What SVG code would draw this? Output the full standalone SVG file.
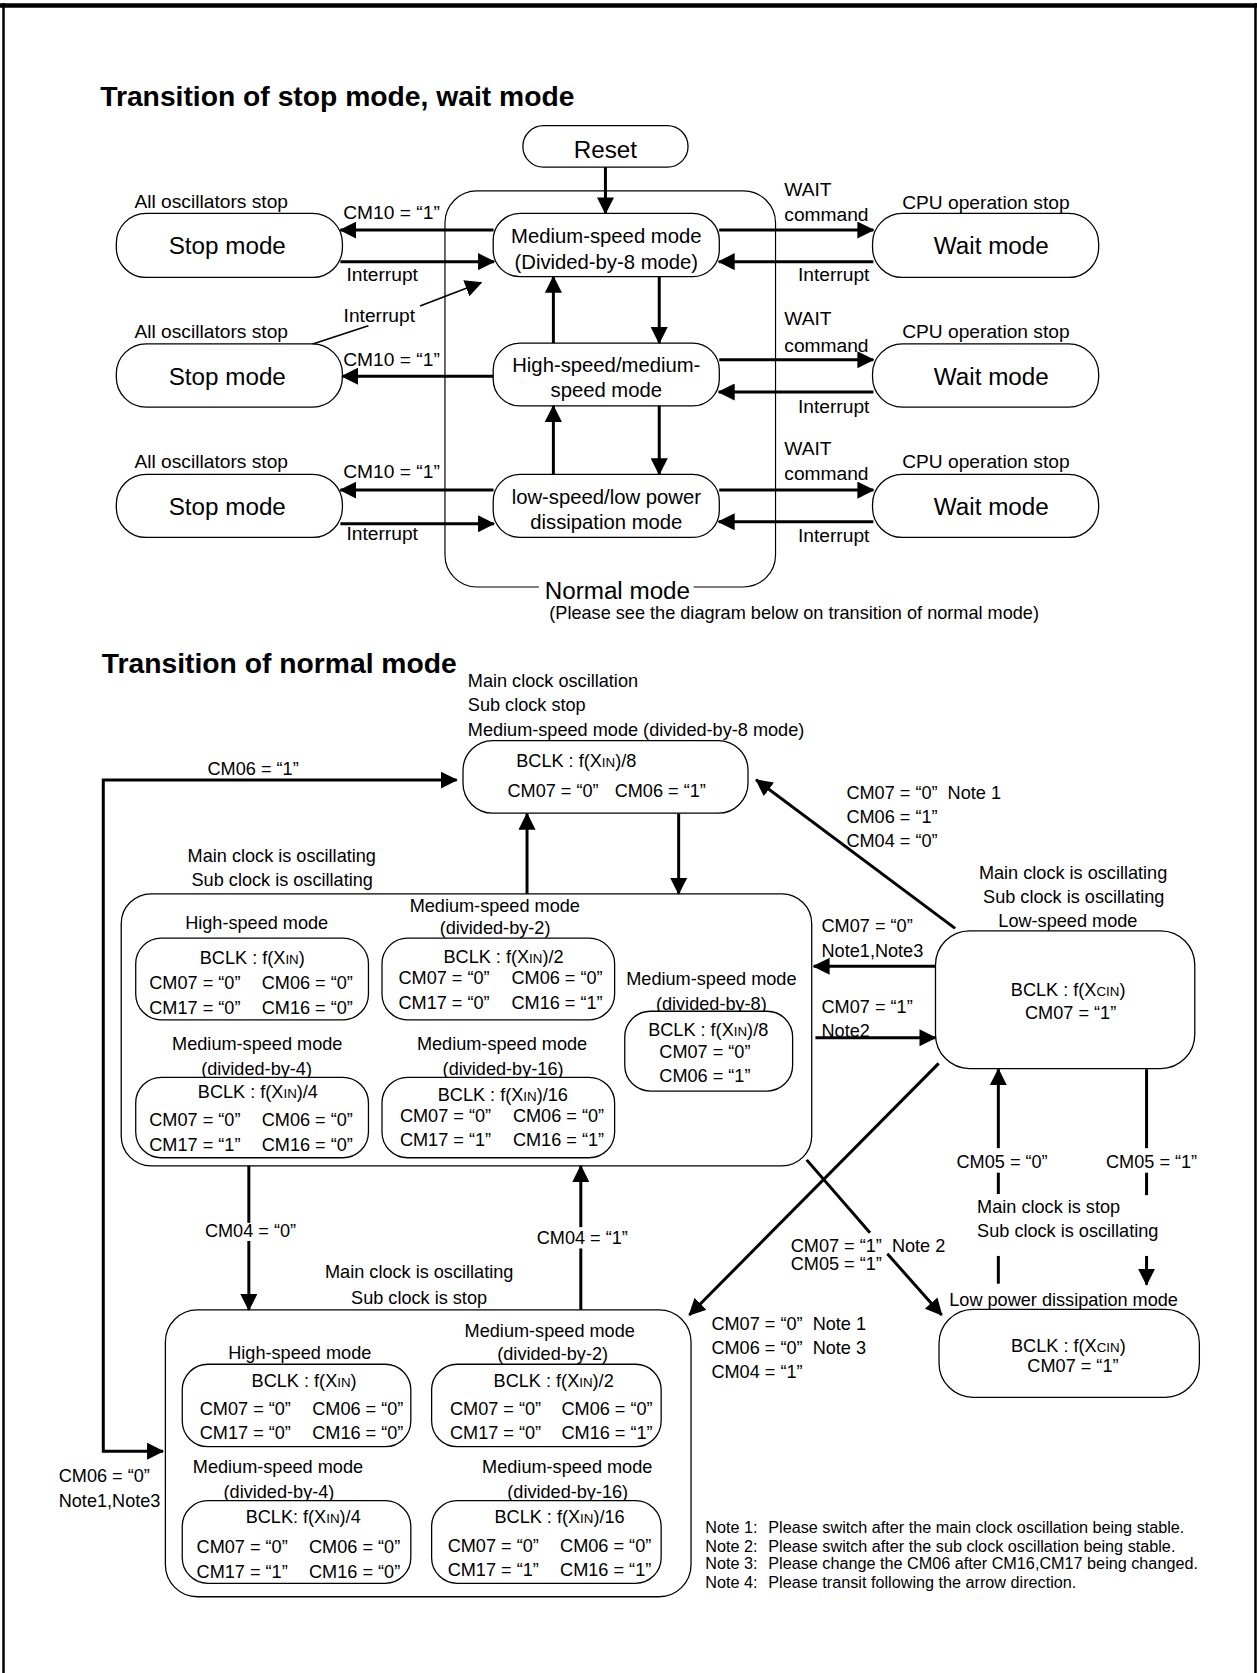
<svg xmlns="http://www.w3.org/2000/svg" width="1257" height="1673" viewBox="0 0 1257 1673">
<style>
.bx{fill:#fff;stroke:#000;stroke-width:1.2}
.nb{fill:none;stroke:#000;stroke-width:1.1}
.ar{fill:none;stroke:#000;stroke-width:2.8}
.th{fill:none;stroke:#000;stroke-width:1.5}
text{font-family:"Liberation Sans",Arial,Helvetica,sans-serif;fill:#000}
.ttl{font-size:26.5px;font-weight:bold}
.l18{font-size:18px}
.l22{font-size:22.7px}
.l19{font-size:19px}
.l17{font-size:17px}
.n15{font-size:15.2px}
.m{text-anchor:middle}
.sc{font-size:12.5px}
</style>
<defs>
<marker id="ah" markerUnits="userSpaceOnUse" viewBox="0 0 16 16" markerWidth="16" markerHeight="16" refX="15" refY="8" orient="auto-start-reverse">
<path d="M0,0 L16,8 L0,16 z" fill="#000"/>
</marker>
</defs>
<rect width="1257" height="1673" fill="#fff"/>
<g id="frame" fill="none" stroke="#000">
<line x1="0" y1="5.5" x2="1257" y2="5.5" stroke-width="4.5"/>
<line x1="3.5" y1="3" x2="3.5" y2="1673" stroke-width="2.5"/>
<line x1="1255.5" y1="3" x2="1255.5" y2="1673" stroke-width="2.5"/>
</g>
<g transform="scale(1.06706)">
<text class="ttl" x="93.9" y="99.3">Transition of stop mode, wait mode</text>
<text class="ttl" x="95.4" y="630.4">Transition of normal mode</text>

<!-- ===== Upper diagram nodes ===== -->
<g id="reset">
<rect class="bx" x="490" y="117.8" width="154.8" height="38.9" rx="19.4"/>
<text class="l22 m" x="567.4" y="148">Reset</text>
</g>
<g id="normal-mode">
<path class="nb" d="M505,550.1 H447 A30,30 0 0 1 417,520.1 V208.9 A30,30 0 0 1 447,178.9 H696.8 A30,30 0 0 1 726.8,208.9 V520.1 A30,30 0 0 1 696.8,550.1 H650"/>
<text class="l22 m" x="578.6" y="561.2">Normal mode</text>
<text class="l17" x="514.8" y="579.7">(Please see the diagram below on transition of normal mode)</text>
</g>
<g id="medium-speed">
<rect class="bx" x="462.2" y="200" width="211.9" height="59.3" rx="25"/>
<text class="l19 m" x="568.2" y="227.8">Medium-speed mode</text>
<text class="l19 m" x="568.2" y="251.9">(Divided-by-8 mode)</text>
</g>
<g id="high-medium-speed">
<rect class="bx" x="462.2" y="321.5" width="211.9" height="58.9" rx="25"/>
<text class="l19 m" x="568.2" y="348.2">High-speed/medium-</text>
<text class="l19 m" x="568.2" y="372.3">speed mode</text>
</g>
<g id="low-speed-low-power">
<rect class="bx" x="462.2" y="444.5" width="211.9" height="59.2" rx="25"/>
<text class="l19 m" x="568.2" y="472.3">low-speed/low power</text>
<text class="l19 m" x="568.2" y="495.6">dissipation mode</text>
</g>
<g id="stop1">
<text class="l18" x="126" y="194.5">All oscillators stop</text>
<rect class="bx" x="109" y="200" width="211.9" height="60" rx="28"/>
<text class="l22 m" x="213" y="238.5">Stop mode</text>
</g>
<g id="stop2">
<text class="l18" x="126" y="316.7">All oscillators stop</text>
<rect class="bx" x="109" y="322.3" width="211.9" height="59.2" rx="28"/>
<text class="l22 m" x="213" y="360.5">Stop mode</text>
</g>
<g id="stop3">
<text class="l18" x="126" y="439">All oscillators stop</text>
<rect class="bx" x="109" y="444.5" width="211.9" height="59.2" rx="28"/>
<text class="l22 m" x="213" y="482.5">Stop mode</text>
</g>
<g id="wait1">
<text class="l18" x="845.5" y="196.3">CPU operation stop</text>
<rect class="bx" x="817.7" y="200" width="211.9" height="60" rx="28"/>
<text class="l22 m" x="929" y="238.5">Wait mode</text>
</g>
<g id="wait2">
<text class="l18" x="845.5" y="316.7">CPU operation stop</text>
<rect class="bx" x="817.7" y="322.3" width="211.9" height="59.2" rx="28"/>
<text class="l22 m" x="929" y="360.5">Wait mode</text>
</g>
<g id="wait3">
<text class="l18" x="845.5" y="439">CPU operation stop</text>
<rect class="bx" x="817.7" y="444.5" width="211.9" height="59.2" rx="28"/>
<text class="l22 m" x="929" y="482.5">Wait mode</text>
</g>

<!-- ===== Lower diagram nodes ===== -->
<g id="div8-top">
<text class="l17" x="438.4" y="643.4">Main clock oscillation</text>
<text class="l17" x="438.4" y="666">Sub clock stop</text>
<text class="l17" x="438.4" y="690.1">Medium-speed mode (divided-by-8 mode)</text>
<rect class="bx" x="433.9" y="694" width="267.1" height="68.1" rx="28" fill="none"/>
<text class="l17" x="483.8" y="719.2">BCLK : f(X<tspan class="sc">IN</tspan>)/8</text>
<text class="l17" x="475.6" y="746.6">CM07 = “0”</text>
<text class="l17" x="576" y="746.6">CM06 = “1”</text>
</g>

<g id="main-sub-osc">
<text class="l17" x="175.8" y="807.9">Main clock is oscillating</text>
<text class="l17" x="179.5" y="830.5">Sub clock is oscillating</text>
<rect class="bx" x="113.6" y="837.6" width="647.1" height="255" rx="28"/>
<g id="mso-high">
<text class="l17" x="173.5" y="870.9">High-speed mode</text>
<rect class="bx" x="127.2" y="879.2" width="218.1" height="76.5" rx="24"/>
<text class="l17" x="187.2" y="903.1">BCLK : f(X<tspan class="sc">IN</tspan>)</text>
<text class="l17" x="139.9" y="927.3">CM07 = “0”</text><text class="l17" x="245.3" y="927.3">CM06 = “0”</text>
<text class="l17" x="139.9" y="949.9">CM17 = “0”</text><text class="l17" x="245.3" y="949.9">CM16 = “0”</text>
</g>
<g id="mso-div2">
<text class="l17" x="383.9" y="854.7">Medium-speed mode</text>
<text class="l17" x="412" y="875.7">(divided-by-2)</text>
<rect class="bx" x="358" y="879.2" width="218" height="76.5" rx="24"/>
<text class="l17" x="415.6" y="902.2">BCLK : f(X<tspan class="sc">IN</tspan>)/2</text>
<text class="l17" x="373.4" y="922.5">CM07 = “0”</text><text class="l17" x="479.3" y="922.5">CM06 = “0”</text>
<text class="l17" x="373.4" y="945.7">CM17 = “0”</text><text class="l17" x="479.3" y="945.7">CM16 = “1”</text>
</g>
<g id="mso-div8">
<text class="l17" x="586.9" y="923.1">Medium-speed mode</text>
<text class="l17" x="614.7" y="946.1">(divided-by-8)</text>
<rect class="bx" x="585.5" y="947.7" width="157.3" height="74.8" rx="24" fill="none"/>
<text class="l17" x="607.4" y="970.9">BCLK : f(X<tspan class="sc">IN</tspan>)/8</text>
<text class="l17" x="617.9" y="991.2">CM07 = “0”</text>
<text class="l17" x="617.9" y="1013.8">CM06 = “1”</text>
</g>
<g id="mso-div4">
<text class="l17" x="161.3" y="983.8">Medium-speed mode</text>
<text class="l17" x="188.5" y="1007">(divided-by-4)</text>
<rect class="bx" x="127.2" y="1009.6" width="218.1" height="75.4" rx="24" fill="none"/>
<text class="l17" x="185.4" y="1029">BCLK : f(X<tspan class="sc">IN</tspan>)/4</text>
<text class="l17" x="139.9" y="1054.8">CM07 = “0”</text><text class="l17" x="245.3" y="1054.8">CM06 = “0”</text>
<text class="l17" x="139.9" y="1078.4">CM17 = “1”</text><text class="l17" x="245.3" y="1078.4">CM16 = “0”</text>
</g>
<g id="mso-div16">
<text class="l17" x="390.7" y="983.8">Medium-speed mode</text>
<text class="l17" x="414.8" y="1007">(divided-by-16)</text>
<rect class="bx" x="358" y="1009.6" width="218" height="75.4" rx="24" fill="none"/>
<text class="l17" x="410.2" y="1032.2">BCLK : f(X<tspan class="sc">IN</tspan>)/16</text>
<text class="l17" x="374.8" y="1051.6">CM07 = “0”</text><text class="l17" x="480.7" y="1051.6">CM06 = “0”</text>
<text class="l17" x="374.8" y="1074.2">CM17 = “1”</text><text class="l17" x="480.7" y="1074.2">CM16 = “1”</text>
</g>
</g>

<g id="low-speed">
<text class="l17" x="917.4" y="823.3">Main clock is oscillating</text>
<text class="l17" x="921.3" y="846">Sub clock is oscillating</text>
<text class="l17" x="935.6" y="868.3">Low-speed mode</text>
<rect class="bx" x="876.7" y="872.3" width="243" height="129.1" rx="32"/>
<text class="l17" x="947.3" y="933">BCLK : f(X<tspan class="sc">CIN</tspan>)</text>
<text class="l17" x="960.6" y="955">CM07 = “1”</text>
</g>

<g id="low-power">
<text class="l17" x="915.7" y="1136.3">Main clock is stop</text>
<text class="l17" x="915.7" y="1159.6">Sub clock is oscillating</text>
<text class="l17" x="889.6" y="1224">Low power dissipation mode</text>
<rect class="bx" x="880" y="1227" width="244" height="82.5" rx="32" fill="none"/>
<text class="l17" x="947.5" y="1266.7">BCLK : f(X<tspan class="sc">CIN</tspan>)</text>
<text class="l17" x="962.8" y="1285.5">CM07 = “1”</text>
</g>

<g id="main-osc-sub-stop">
<text class="l17" x="304.6" y="1198">Main clock is oscillating</text>
<text class="l17" x="329" y="1222">Sub clock is stop</text>
<rect class="bx" x="155" y="1227.6" width="492.6" height="268.8" rx="30"/>
<g id="mss-high">
<text class="l17" x="213.9" y="1273.9">High-speed mode</text>
<rect class="bx" x="170.8" y="1278.5" width="214.2" height="77.3" rx="24"/>
<text class="l17" x="235.8" y="1299.5">BCLK : f(X<tspan class="sc">IN</tspan>)</text>
<text class="l17" x="187.2" y="1326">CM07 = “0”</text><text class="l17" x="292.6" y="1326">CM06 = “0”</text>
<text class="l17" x="187.2" y="1348.9">CM17 = “0”</text><text class="l17" x="292.6" y="1348.9">CM16 = “0”</text>
</g>
<g id="mss-div2">
<text class="l17" x="435.4" y="1252.7">Medium-speed mode</text>
<text class="l17" x="466" y="1274.5">(divided-by-2)</text>
<rect class="bx" x="404.5" y="1278.5" width="215.1" height="77.3" rx="24"/>
<text class="l17" x="462.6" y="1299.5">BCLK : f(X<tspan class="sc">IN</tspan>)/2</text>
<text class="l17" x="421.7" y="1326">CM07 = “0”</text><text class="l17" x="526.2" y="1326">CM06 = “0”</text>
<text class="l17" x="421.7" y="1348.9">CM17 = “0”</text><text class="l17" x="526.2" y="1348.9">CM16 = “1”</text>
</g>
<g id="mss-div4">
<text class="l17" x="180.7" y="1380.8">Medium-speed mode</text>
<text class="l17" x="209.5" y="1403.5">(divided-by-4)</text>
<rect class="bx" x="170.8" y="1406.4" width="214.2" height="77.4" rx="24" fill="none"/>
<text class="l17" x="230.2" y="1427.6">BCLK: f(X<tspan class="sc">IN</tspan>)/4</text>
<text class="l17" x="184.2" y="1455">CM07 = “0”</text><text class="l17" x="289.6" y="1455">CM06 = “0”</text>
<text class="l17" x="184.2" y="1478.5">CM17 = “1”</text><text class="l17" x="289.6" y="1478.5">CM16 = “0”</text>
</g>
<g id="mss-div16">
<text class="l17" x="451.8" y="1380">Medium-speed mode</text>
<text class="l17" x="475.4" y="1403.5">(divided-by-16)</text>
<rect class="bx" x="404.5" y="1406.4" width="215.1" height="77.4" rx="24" fill="none"/>
<text class="l17" x="463.4" y="1427">BCLK : f(X<tspan class="sc">IN</tspan>)/16</text>
<text class="l17" x="419.5" y="1454">CM07 = “0”</text><text class="l17" x="524.9" y="1454">CM06 = “0”</text>
<text class="l17" x="419.5" y="1477">CM17 = “1”</text><text class="l17" x="524.9" y="1477">CM16 = “1”</text>
</g>
</g>

<g id="notes">
<text class="n15" x="661" y="1437">Note 1:</text><text class="n15" x="720" y="1437">Please switch after the main clock oscillation being stable.</text>
<text class="n15" x="661" y="1454">Note 2:</text><text class="n15" x="720" y="1454">Please switch after the sub clock oscillation being stable.</text>
<text class="n15" x="661" y="1470.5">Note 3:</text><text class="n15" x="720" y="1470.5">Please change the CM06 after CM16,CM17 being changed.</text>
<text class="n15" x="661" y="1488">Note 4:</text><text class="n15" x="720" y="1488">Please transit following the arrow direction.</text>
</g>

<!-- ===== Connectors ===== -->
<g id="connectors">
<!-- upper -->
<line class="ar" x1="567.4" y1="156.7" x2="567.4" y2="200" marker-end="url(#ah)"/>
<line class="ar" x1="462.5" y1="215.6" x2="319" y2="215.6" marker-end="url(#ah)"/>
<line class="ar" x1="319" y1="245.2" x2="463" y2="245.2" marker-end="url(#ah)"/>
<line class="ar" x1="674" y1="215.6" x2="818.5" y2="215.6" marker-end="url(#ah)"/>
<line class="ar" x1="818.5" y1="245.2" x2="673.5" y2="245.2" marker-end="url(#ah)"/>
<line class="ar" x1="518.6" y1="321.5" x2="518.6" y2="259.3" marker-end="url(#ah)"/>
<line class="ar" x1="617.8" y1="259.3" x2="617.8" y2="321.5" marker-end="url(#ah)"/>
<line class="th" x1="293.1" y1="322.3" x2="345.2" y2="305.2"/>
<line class="th" x1="393.6" y1="286.8" x2="451" y2="264.8" marker-end="url(#ah)"/>
<line class="ar" x1="462.2" y1="352.6" x2="320.5" y2="352.6" marker-end="url(#ah)"/>
<line class="ar" x1="674" y1="337.1" x2="818.5" y2="337.1" marker-end="url(#ah)"/>
<line class="ar" x1="818.5" y1="367.4" x2="673.5" y2="367.4" marker-end="url(#ah)"/>
<line class="ar" x1="518.6" y1="444.5" x2="518.6" y2="380.4" marker-end="url(#ah)"/>
<line class="ar" x1="617.8" y1="380.4" x2="617.8" y2="444.5" marker-end="url(#ah)"/>
<line class="ar" x1="462.5" y1="459.3" x2="319" y2="459.3" marker-end="url(#ah)"/>
<line class="ar" x1="319" y1="490.8" x2="463" y2="490.8" marker-end="url(#ah)"/>
<line class="ar" x1="674" y1="459.3" x2="818.5" y2="459.3" marker-end="url(#ah)"/>
<line class="ar" x1="818.5" y1="489" x2="673.5" y2="489" marker-end="url(#ah)"/>
<!-- upper labels -->
<text class="l18" x="321.7" y="205.6">CM10 = “1”</text>
<text class="l18" x="324.7" y="263.7">Interrupt</text>
<text class="l18" x="322" y="301.9">Interrupt</text>
<text class="l18" x="321.7" y="342.6">CM10 = “1”</text>
<text class="l18" x="321.7" y="448.2">CM10 = “1”</text>
<text class="l18" x="324.7" y="505.6">Interrupt</text>
<text class="l18" x="735" y="183.4">WAIT</text>
<text class="l18" x="735" y="207.4">command</text>
<text class="l18" x="747.8" y="263.7">Interrupt</text>
<text class="l18" x="735" y="304.5">WAIT</text>
<text class="l18" x="735" y="329.7">command</text>
<text class="l18" x="747.8" y="387.1">Interrupt</text>
<text class="l18" x="735" y="426">WAIT</text>
<text class="l18" x="735" y="450">command</text>
<text class="l18" x="747.8" y="508.2">Interrupt</text>

<!-- lower -->
<path class="ar" d="M152.8,1360 H96.8 V731 H428" marker-start="url(#ah)" marker-end="url(#ah)"/>
<line class="ar" x1="493.9" y1="837.6" x2="493.9" y2="762.5" marker-end="url(#ah)"/>
<line class="ar" x1="636" y1="762.5" x2="636" y2="837.6" marker-end="url(#ah)"/>
<line class="ar" x1="895.1" y1="870" x2="708.6" y2="730.8" marker-end="url(#ah)"/>
<line class="ar" x1="876.7" y1="905.6" x2="762.5" y2="905.6" marker-end="url(#ah)"/>
<line class="ar" x1="764.2" y1="972.5" x2="876.7" y2="972.5" marker-end="url(#ah)"/>
<line class="ar" x1="879.7" y1="996.5" x2="646" y2="1232.4" marker-end="url(#ah)"/>
<line class="ar" x1="756" y1="1087" x2="815.3" y2="1155.2"/>
<line class="ar" x1="831.6" y1="1175" x2="882.5" y2="1232.4" marker-end="url(#ah)"/>
<line class="ar" x1="935.6" y1="1076" x2="935.6" y2="1002" marker-end="url(#ah)"/>
<line class="ar" x1="935.6" y1="1099" x2="935.6" y2="1119"/>
<line class="ar" x1="935.6" y1="1177" x2="935.6" y2="1203"/>
<line class="ar" x1="1074.5" y1="1002" x2="1074.5" y2="1076"/>
<line class="ar" x1="1074.5" y1="1099" x2="1074.5" y2="1120"/>
<line class="ar" x1="1074.5" y1="1177" x2="1074.5" y2="1204" marker-end="url(#ah)"/>
<line class="ar" x1="233.2" y1="1092.6" x2="233.2" y2="1146"/>
<line class="ar" x1="233.2" y1="1163" x2="233.2" y2="1227.6" marker-end="url(#ah)"/>
<line class="ar" x1="544.3" y1="1227.6" x2="544.3" y2="1170"/>
<line class="ar" x1="544.3" y1="1150" x2="544.3" y2="1092.6" marker-end="url(#ah)"/>
<!-- lower labels -->
<text class="l17" x="194.5" y="726.6">CM06 = “1”</text>
<text class="l17" x="55" y="1389">CM06 = “0”</text>
<text class="l17" x="55" y="1412">Note1,Note3</text>
<text class="l17" x="793.2" y="748.4">CM07 = “0”&#160; Note 1</text>
<text class="l17" x="793.2" y="771.7">CM06 = “1”</text>
<text class="l17" x="793.2" y="794">CM04 = “0”</text>
<text class="l17" x="769.9" y="873.3">CM07 = “0”</text>
<text class="l17" x="769.9" y="896.6">Note1,Note3</text>
<text class="l17" x="769.9" y="949.2">CM07 = “1”</text>
<text class="l17" x="769.9" y="971.5">Note2</text>
<text class="l17" x="896.4" y="1094.8">CM05 = “0”</text>
<text class="l17" x="1036.5" y="1094.8">CM05 = “1”</text>
<text class="l17" x="741" y="1173">CM07 = “1”&#160; Note 2</text>
<text class="l17" x="741" y="1190">CM05 = “1”</text>
<text class="l17" x="666.7" y="1246.4">CM07 = “0”&#160; Note 1</text>
<text class="l17" x="666.7" y="1269">CM06 = “0”&#160; Note 3</text>
<text class="l17" x="666.7" y="1291.7">CM04 = “1”</text>
<text class="l17" x="192" y="1159">CM04 = “0”</text>
<text class="l17" x="503" y="1166">CM04 = “1”</text>
</g>
</g>
</svg>
